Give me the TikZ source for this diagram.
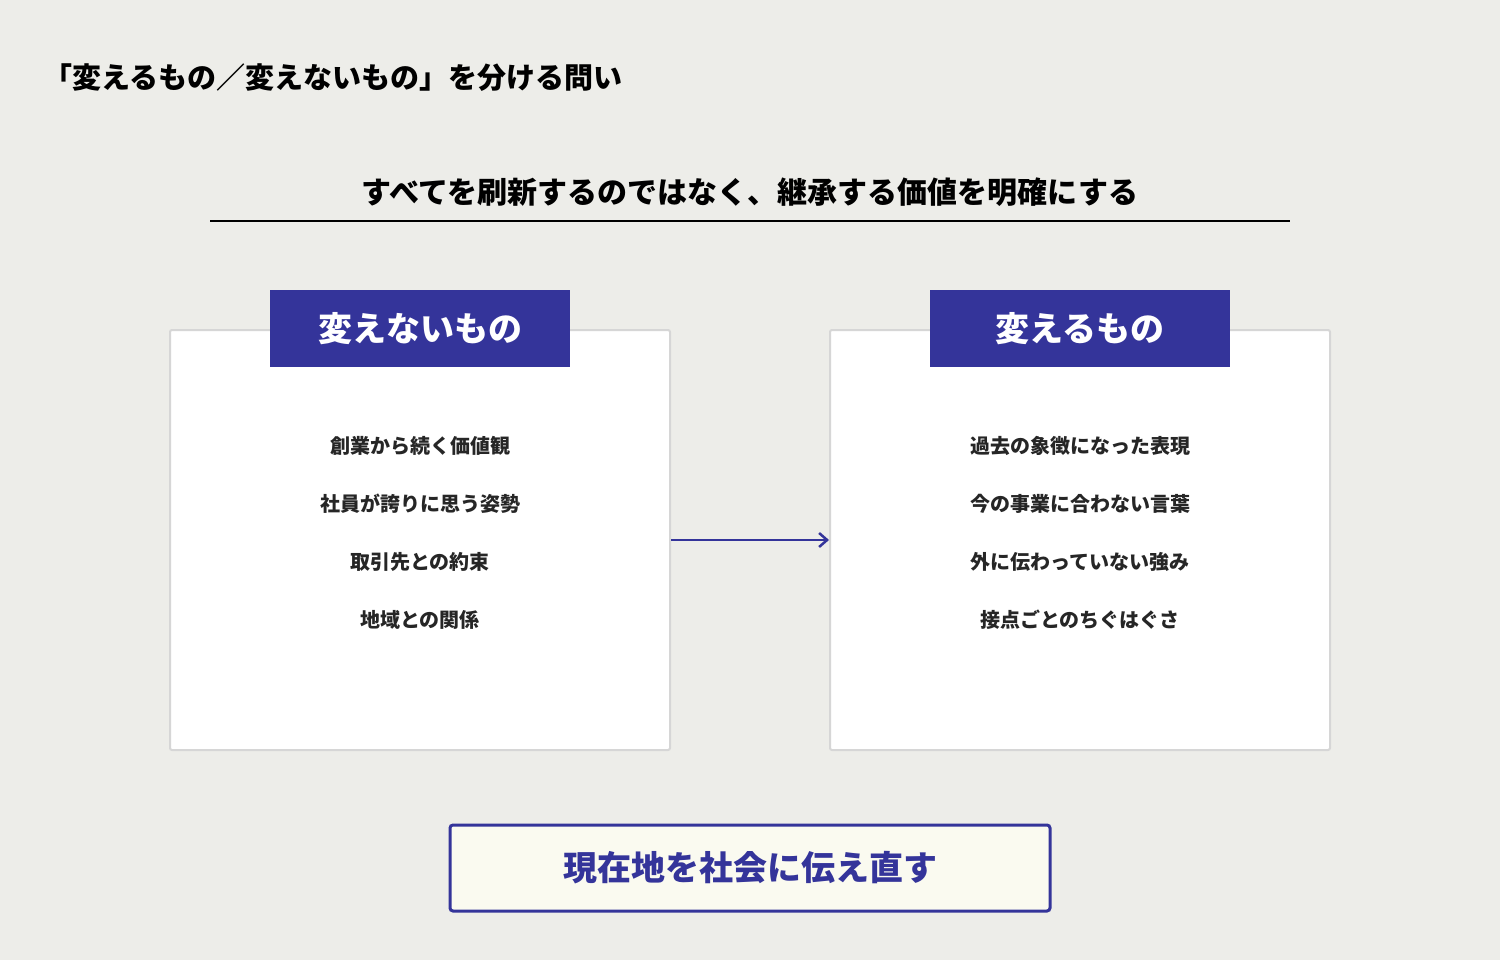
\documentclass[tikz,border=0pt]{standalone}
\usepackage{fontspec}
\usetikzlibrary{arrows.meta}
\setmainfont{Noto Sans CJK JP}
\definecolor{bg}{HTML}{EDEDE9}
\definecolor{navy}{HTML}{34349A}
\definecolor{cream}{HTML}{FAFAF0}
\definecolor{gborder}{HTML}{D6D6D6}
\tikzset{
 panel/.style={draw=gborder,line width=2pt,fill=white,rounded corners=2pt,minimum width=500pt,minimum height=420pt,inner sep=0},
 head/.style={fill=navy,text=white,minimum width=300pt,minimum height=77pt,font=\fontsize{34}{40}\selectfont\bfseries,inner sep=0},
 item/.style={font=\fontsize{20}{24}\selectfont\bfseries,text=black!85},
}
\begin{document}
\begin{tikzpicture}[x=1pt,y=-1pt]
\fill[bg] (0,0) rectangle (1500,960);
\useasboundingbox (0,0) rectangle (1500,960);
\node[anchor=west,font=\fontsize{29}{34}\selectfont\bfseries] (title) at (40,78) {「変えるもの／変えないもの」を分ける問い};
\node[font=\fontsize{30}{36}\selectfont\bfseries] (sub) at (750,192) {すべてを刷新するのではなく、継承する価値を明確にする};
\coordinate (l1) at (210,221); \coordinate (l2) at (1290,221);
\draw[line width=2.5pt] (l1) -- (l2);
\node[panel] (lp) at (420,540) {};
\node[panel] (rp) at (1080,540) {};
\node[head] (lh) at (420,328.5) {変えないもの};
\node[head] (rh) at (1080,328.5) {変えるもの};
\foreach \t/\y [count=\i] in {創業から続く価値観/446,社員が誇りに思う姿勢/504,取引先との約束/562,地域との関係/620}
  \node[item] (li\i) at (420,\y) {\t};
\foreach \t/\y [count=\i] in {過去の象徴になった表現/446,今の事業に合わない言葉/504,外に伝わっていない強み/562,接点ごとのちぐはぐさ/620}
  \node[item] (ri\i) at (1080,\y) {\t};
\draw[navy,line width=2.5pt,-{Straight Barb[length=8pt,width=14pt]}] (lp.east) -- (rp.west);
\node[draw=navy,line width=3pt,fill=cream,rounded corners=3pt,minimum width=600pt,minimum height=86pt,text=navy,font=\fontsize{34}{40}\selectfont\bfseries] (bot) at (750,868) {現在地を社会に伝え直す};
\end{tikzpicture}
\end{document}
